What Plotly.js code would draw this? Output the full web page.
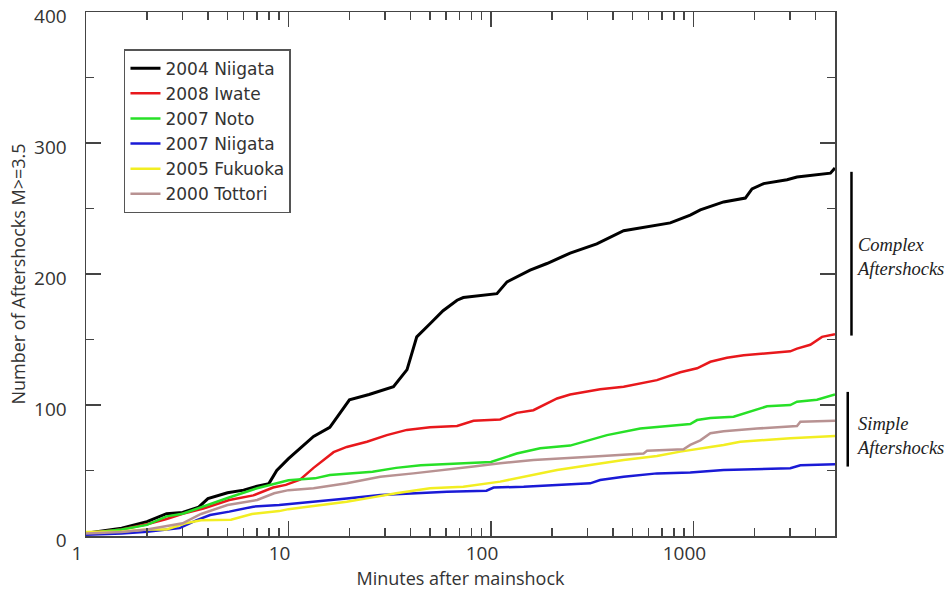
<!DOCTYPE html>
<html>
<head>
<meta charset="utf-8">
<script src="https://cdn.plot.ly/plotly-3.0.1.min.js"></script>
<style>html,body{margin:0;padding:0;background:#fff;}#chart{width:951px;height:591px;}</style>
</head>
<body>
<div id="chart"></div>
<script>
// Series names
const seriesNames = ["2004 Niigata", "2008 Iwate", "2007 Noto", "2007 Niigata", "2005 Fukuoka", "2000 Tottori"];

// 2004 Niigata
const niigata2004_x = [1,1.5,2,2.5,3,3.6,4,5,6,7,8,8.75,10,13.3,16,20,25,33,38.5,43,50,58,68,73,107,120,156,189,246,333,452,590,768,964,1081,1409,1804,1946,2220,2897,3246,4745,5000];
const niigata2004_y = [2,6,11,17,18,22,28.5,33,35,38,40,50,59,76,83,104,108,114,127,152,162,172,180,182,185,194,203,208,216,223,233,236,239,245,249,255,258,265,269,272,274,277,281];

// 2008 Iwate
const iwate2008_x = [1,1.5,2,2.5,3,3.8,5.1,6.7,8.4,9.7,11.4,13.3,16.7,19.4,24.4,30.6,38.4,50,68,82,111,134,162,212,246,346,452,660,861,1042,1212,1463,1770,3007,3246,3776,4313,5000];
const iwate2008_y = [2,5,9,13,17,21,27.5,31,37,39,43,52,64,68,72,77,81,83,84,88,89,94,96,105,108,112,114,119,125,128,133,136,138,141,143,146,152,154];

// 2007 Noto
const noto2007_x = [1,1.5,2,2.5,3,3.7,5,7,10,13.5,16,26,34,45,73,100,134,175,246,286,374,546,964,1042,1212,1578,1910,2309,3007,3246,4073,5000];
const noto2007_y = [2,5,8.5,15,17,22,29,36.5,42.5,44,46.5,49,52,54,55.5,56.5,63,67,69,72,77,82,85.5,88.5,90,91,95,99,100,102.5,104,108];

// 2007 Niigata
const niigata2007_x = [1,1.5,2,2.9,3.5,4.1,5.1,6.7,9,13.3,19.4,28.4,41.4,60.6,95,103,145,212,309,346,452,660,964,1409,3007,3373,5000];
const niigata2007_y = [1,2,3.3,6,12,16,18.6,22.4,23.7,26,28.7,31.3,32.6,33.8,34.6,37,37.6,39,40.2,42.7,45.3,47.8,48.5,50.4,51.7,54,54.7];

// 2005 Fukuoka
const fukuoka2005_x = [1,1.5,2,2.5,3.1,3.7,5.2,6.6,9,10,13.3,19.4,26,34,50,73,111,145,212,309,452,660,861,1212,1409,1703,3007,5000];
const fukuoka2005_y = [3,3.5,5,5,9.7,12,12.5,16.8,19,20.5,22.9,26.2,29.5,32.6,36.4,37.6,41.5,45.3,50.4,54.2,58,61,64.4,68,69.5,72,74.6,76.3];

// 2000 Tottori
const tottori2000_x = [1,1.5,2,3,3.7,5,7,8.5,10,13.3,19.4,28.4,41.4,60.6,82,111,162,309,567,590,893,964,1081,1212,1409,2060,3246,3373,5000];
const tottori2000_y = [2,3,5,9.7,16.8,23.7,27.5,32.6,35,36.4,40.2,45.3,47.8,50.4,53,55.5,58,60.5,63,65,66.2,69.5,73,78.4,80,82,84,87.3,88];

// Axis ticks
const xTickVals = [1, 10, 100, 1000];
const xTickText = ["1", "10", "100", "1000"];
const xMinorVals = [2,3,4,5,6,7,8,9,20,30,40,50,60,70,80,90,200,300,400,500,600,700,800,900,2000,3000,4000];
const yTickVals = [0, 100, 200, 300, 400];
const yTickText = ["0", "100", "200", "300", "400"];

const xs = [niigata2004_x, iwate2008_x, noto2007_x, niigata2007_x, fukuoka2005_x, tottori2000_x];
const ys = [niigata2004_y, iwate2008_y, noto2007_y, niigata2007_y, fukuoka2005_y, tottori2000_y];
const colors = ["#000000", "#e8181c", "#27e027", "#1a1ad6", "#f2ee22", "#b89292"];
const widths = [3, 2.5, 2.5, 2.5, 2.5, 2.5];

const traces = seriesNames.map((n, i) => ({
  type: "scatter", mode: "lines", name: n,
  x: xs[i], y: ys[i],
  line: {color: colors[i], width: widths[i]}
}));

const axisFont = {family: "Open Sans, sans-serif", size: 19, color: "#333"};
const titleFont = {family: "Open Sans, sans-serif", size: 18, color: "#333"};

const layout = {
  width: 951, height: 591,
  margin: {l: 86, r: 116, t: 12, b: 55},
  paper_bgcolor: "#fff", plot_bgcolor: "#fff",
  showlegend: true,
  legend: {
    x: 0.0507, y: 0.929, xanchor: "left", yanchor: "top",
    bgcolor: "#fff", bordercolor: "#555", borderwidth: 1.5,
    font: {family: "DejaVu Sans, sans-serif", size: 17, color: "#333"},
    tracegroupgap: 0
  },
  xaxis: {
    type: "log", range: [0, Math.log10(5000)],
    showgrid: false, zeroline: false,
    showline: true, linecolor: "#444", linewidth: 1.5, mirror: "ticks",
    ticks: "inside", ticklen: 15, tickwidth: 1.5, tickcolor: "#444",
    tickvals: xTickVals, ticktext: xTickText,
    tickfont: axisFont, ticklabelshift: -9, ticklabelstandoff: 0,
    ticklabeloverflow: "allow",
    minor: {tickvals: xMinorVals, ticks: "inside", ticklen: 8, tickwidth: 1.5, tickcolor: "#444", showgrid: false},
    title: {text: "Minutes after mainshock", font: titleFont, standoff: 6}
  },
  yaxis: {
    range: [0, 400],
    showgrid: false, zeroline: false,
    showline: true, linecolor: "#444", linewidth: 1.5, mirror: "ticks",
    ticks: "inside", ticklen: 15, tickwidth: 1.5, tickcolor: "#444",
    tickvals: yTickVals, ticktext: yTickText,
    tickfont: axisFont, ticklabelshift: 4, ticklabelstandoff: 14,
    ticklabeloverflow: "allow",
    minor: {dtick: 50, ticks: "inside", ticklen: 8, tickwidth: 1.5, tickcolor: "#444", showgrid: false},
    title: {text: "Number of Aftershocks M>=3.5", font: titleFont, standoff: 4}
  },
  shapes: [
    {type: "line", xref: "paper", yref: "y", x0: 1.022, x1: 1.022, y0: 153, y1: 278, line: {color: "#000", width: 2.5}},
    {type: "line", xref: "paper", yref: "y", x0: 1.017, x1: 1.017, y0: 53, y1: 110, line: {color: "#000", width: 2.5}}
  ],
  annotations: [
    {xref: "paper", yref: "y", x: 1.025, y: 213, xanchor: "left", yanchor: "middle", align: "left", showarrow: false,
     text: "<i>Complex<br>Aftershocks</i>", font: {family: "Liberation Serif, Times New Roman, serif", size: 18.5, color: "#222"}},
    {xref: "paper", yref: "y", x: 1.025, y: 76, xanchor: "left", yanchor: "middle", align: "left", showarrow: false,
     text: "<i>Simple<br>Aftershocks</i>", font: {family: "Liberation Serif, Times New Roman, serif", size: 18.5, color: "#222"}}
  ]
};

Plotly.newPlot("chart", traces, layout, {displayModeBar: false, staticPlot: true});
</script>
</body>
</html>
